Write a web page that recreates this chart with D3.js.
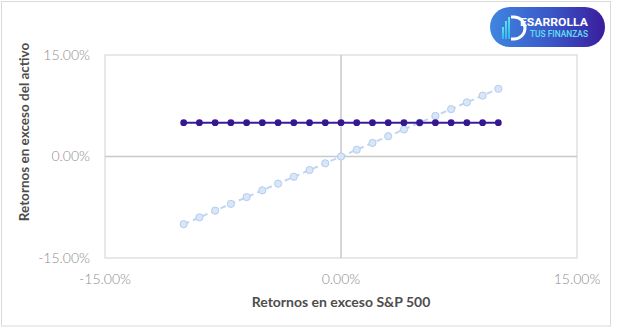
<!DOCTYPE html>
<html>
<head>
<meta charset="utf-8">
<script src="https://cdn.jsdelivr.net/npm/d3@7"></script>
<style>
  html, body { margin: 0; padding: 0; background: #fff; }
  svg { display: block; }
</style>
</head>
<body>
<svg id="chart" width="617" height="330"></svg>
<script>
// excess returns of the S&P 500 (x) and of the two assets (y)
const marketReturns = [-0.10, -0.09, -0.08, -0.07, -0.06, -0.05, -0.04, -0.03, -0.02, -0.01, 0.00,
  0.01, 0.02, 0.03, 0.04, 0.05, 0.06, 0.07, 0.08, 0.09, 0.10];
const betaOneReturns = [-0.10, -0.09, -0.08, -0.07, -0.06, -0.05, -0.04, -0.03, -0.02, -0.01, 0.00,
  0.01, 0.02, 0.03, 0.04, 0.05, 0.06, 0.07, 0.08, 0.09, 0.10];
const betaZeroReturns = [0.05, 0.05, 0.05, 0.05, 0.05, 0.05, 0.05, 0.05, 0.05, 0.05, 0.05,
  0.05, 0.05, 0.05, 0.05, 0.05, 0.05, 0.05, 0.05, 0.05, 0.05];
const tickValues = [-0.15, 0, 0.15];

const xTitle = "Retornos en exceso S&P 500";
const yTitle = "Retornos en exceso del activo";

const svg = d3.select("#chart");
// excel style labels use a plain hyphen, not the unicode minus
const fmt = d => d3.format(".2%")(d).replace("\u2212", "-");
const font = "Lato, 'Open Sans', sans-serif";

const plot = { left: 105, right: 577, top: 55, bottom: 258 };

// outer frame
svg.append("rect")
  .attr("x", 1.5).attr("y", 1.5)
  .attr("width", 609).attr("height", 324.5)
  .attr("fill", "#fff")
  .attr("stroke", "#d9d9d9");

const x = d3.scaleLinear().domain([-0.15, 0.15]).range([plot.left, plot.right]);
const y = d3.scaleLinear().domain([-0.15, 0.15]).range([plot.bottom, plot.top]);

// plot border
svg.append("rect")
  .attr("x", plot.left).attr("y", plot.top)
  .attr("width", plot.right - plot.left).attr("height", plot.bottom - plot.top)
  .attr("fill", "none")
  .attr("stroke", "#d9d9d9")
  .attr("stroke-width", 1.2);

// zero lines
svg.append("line")
  .attr("x1", x(0)).attr("x2", x(0))
  .attr("y1", plot.top).attr("y2", plot.bottom)
  .attr("stroke", "#c8c8c8").attr("stroke-width", 1.5);
svg.append("line")
  .attr("x1", plot.left).attr("x2", plot.right)
  .attr("y1", y(0)).attr("y2", y(0))
  .attr("stroke", "#c8c8c8").attr("stroke-width", 1.5);

// tick labels
svg.append("g").selectAll("text")
  .data(tickValues)
  .enter().append("text")
  .attr("x", 90)
  .attr("y", d => y(d))
  .attr("dy", "0.35em")
  .attr("text-anchor", "end")
  .style("font-family", font)
  .style("font-weight", 300)
  .style("font-size", "14px")
  .style("fill", "#8c8c8c")
  .text(d => fmt(d));

svg.append("g").selectAll("text")
  .data(tickValues)
  .enter().append("text")
  .attr("x", d => x(d))
  .attr("y", 279)
  .attr("dy", "0.35em")
  .attr("text-anchor", "middle")
  .style("font-family", font)
  .style("font-weight", 300)
  .style("font-size", "14px")
  .style("fill", "#8c8c8c")
  .text(d => fmt(d));

// axis titles
svg.append("text")
  .attr("x", x(0))
  .attr("y", 302)
  .attr("dy", "0.35em")
  .attr("text-anchor", "middle")
  .style("font-family", font)
  .style("font-weight", 700)
  .style("font-size", "14px")
  .style("fill", "#4d4d4d")
  .text(xTitle);

svg.append("text")
  .attr("transform", "translate(24,132) rotate(-90)")
  .attr("dy", "0.35em")
  .attr("text-anchor", "middle")
  .style("font-family", font)
  .style("font-weight", 700)
  .style("font-size", "13.5px")
  .style("fill", "#4d4d4d")
  .text(yTitle);

// series
const betaOne = marketReturns.map((m, i) => ({ m, r: betaOneReturns[i] }));
const betaZero = marketReturns.map((m, i) => ({ m, r: betaZeroReturns[i] }));

const line = d3.line().x(d => x(d.m)).y(d => y(d.r));

svg.append("path")
  .datum(betaOne)
  .attr("d", line)
  .attr("fill", "none")
  .attr("stroke", "#c0d6f3")
  .attr("stroke-width", 2)
  .attr("stroke-dasharray", "6,4");

svg.append("g").selectAll("circle")
  .data(betaOne)
  .enter().append("circle")
  .attr("cx", d => x(d.m))
  .attr("cy", d => y(d.r))
  .attr("r", 3.6)
  .attr("fill", "#d8e6f8")
  .attr("stroke", "#b3cdf0")
  .attr("stroke-width", 1);

svg.append("path")
  .datum(betaZero)
  .attr("d", line)
  .attr("fill", "none")
  .attr("stroke", "#3a1b9a")
  .attr("stroke-width", 2);

svg.append("g").selectAll("circle")
  .data(betaZero)
  .enter().append("circle")
  .attr("cx", d => x(d.m))
  .attr("cy", d => y(d.r))
  .attr("r", 3.4)
  .attr("fill", "#36178e");

// logo badge
const defs = svg.append("defs");
const grad = defs.append("linearGradient").attr("id", "badgeGrad")
  .attr("x1", "0%").attr("x2", "100%").attr("y1", "0%").attr("y2", "0%");
grad.append("stop").attr("offset", "0%").attr("stop-color", "#3f86e0");
grad.append("stop").attr("offset", "55%").attr("stop-color", "#3a55c6");
grad.append("stop").attr("offset", "100%").attr("stop-color", "#3a1c9c");

const barGrad = defs.append("linearGradient").attr("id", "barGrad")
  .attr("x1", "0%").attr("x2", "0%").attr("y1", "0%").attr("y2", "100%");
barGrad.append("stop").attr("offset", "0%").attr("stop-color", "#5fe0f2");
barGrad.append("stop").attr("offset", "100%").attr("stop-color", "#2fb4e8");

const badge = svg.append("g").attr("transform", "translate(490,7)");
badge.append("rect")
  .attr("width", 115).attr("height", 40)
  .attr("rx", 20)
  .attr("fill", "url(#badgeGrad)");

// "D" mark with small bars
[[12, 20, 12], [15, 14, 18], [18, 10, 22]].forEach(([bx, by, bh]) => {
  badge.append("rect")
    .attr("x", bx).attr("y", by)
    .attr("width", 2).attr("height", bh)
    .attr("fill", "url(#barGrad)");
});
badge.append("path")
  .attr("d", "M21,10 L24,10 A10,10 0 0 1 24,32 L21,32")
  .attr("fill", "none")
  .attr("stroke", "#fff")
  .attr("stroke-width", 3);

badge.append("text")
  .attr("x", 30).attr("y", 15.5)
  .attr("dy", "0.35em")
  .attr("textLength", 68)
  .attr("lengthAdjust", "spacingAndGlyphs")
  .style("font-family", "Roboto, sans-serif")
  .style("font-weight", 700)
  .style("font-size", "11px")
  .style("fill", "#fff")
  .text("ESARROLLA");

badge.append("text")
  .attr("x", 40).attr("y", 27.5)
  .attr("dy", "0.35em")
  .attr("textLength", 58)
  .attr("lengthAdjust", "spacingAndGlyphs")
  .style("font-family", "Roboto, sans-serif")
  .style("font-weight", 500)
  .style("font-size", "8.5px")
  .style("fill", "#5fe0f2")
  .text("TUS FINANZAS");
</script>
</body>
</html>
